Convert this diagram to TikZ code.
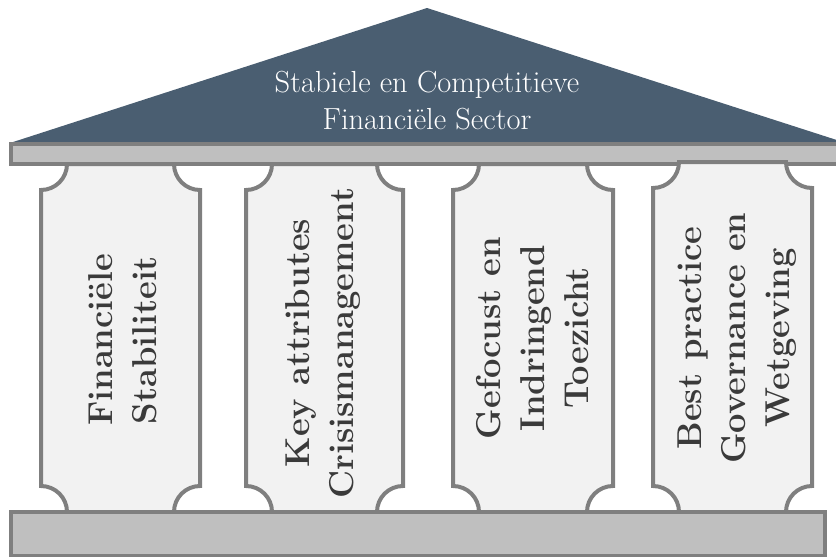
\documentclass[tikz,border=0pt]{standalone}
\usepackage{fontspec}
\definecolor{roofc}{HTML}{4A5E71}
\definecolor{edgec}{HTML}{7F7F7F}
\definecolor{pillarc}{HTML}{F2F2F2}
\definecolor{beamc}{HTML}{BFBFBF}
\definecolor{textc}{HTML}{3A3A3A}
\tikzset{
  pillarbox/.style={draw=edgec, fill=pillarc, line width=4pt, line join=miter},
  beambox/.style={draw=edgec, fill=beamc, line width=3.5pt},
  pillartext/.style={rotate=90, align=center, text=textc, font=\fontsize{34.5}{44}\selectfont\bfseries},
  rooftext/.style={align=center, text=white, font=\fontsize{30.5}{37}\selectfont}
}
\newcommand{\pillarshape}[4]{% x0 x1 top bot
  \draw[pillarbox] (#1+26,#3) -- (#2-26,#3) arc[start angle=180,end angle=90,radius=26]
    -- (#2,#4-26) arc[start angle=270,end angle=180,radius=26]
    -- (#1+26,#4) arc[start angle=0,end angle=-90,radius=26]
    -- (#1,#3+26) arc[start angle=90,end angle=0,radius=26] -- cycle;
}
\begin{document}
\begin{tikzpicture}[x=1pt,y=-1pt]
\useasboundingbox (0,0) rectangle (836,557);
% roof
\fill[roofc] (10,143) -- (427,8) -- (846,143) -- cycle;
% pillars 1-3
\pillarshape{41}{200}{164}{512}
\pillarshape{246}{403}{164}{512}
\pillarshape{453}{613}{164}{512}
% beam
\draw[beambox] (11,144) rectangle (848,164);
% pillar 4 (drawn over the beam)
\pillarshape{653}{812}{162}{512}
% base
\draw[beambox] (11,512) rectangle (825,556);
% texts
\node[rooftext] (roof) at (427,101) {Stabiele en Competitieve\\Financiële Sector};
\node[pillartext] (p1) at (123,340) {Financiële\\Stabiliteit};
\node[pillartext] (p2) at (323,343) {Key attributes\\Crisismanagement};
\node[pillartext] (p3) at (533,338) {Gefocust en\\Indringend\\Toezicht};
\node[pillartext] (p4) at (737,338) {Best practice\\Governance en\\Wetgeving};
\end{tikzpicture}
\end{document}
